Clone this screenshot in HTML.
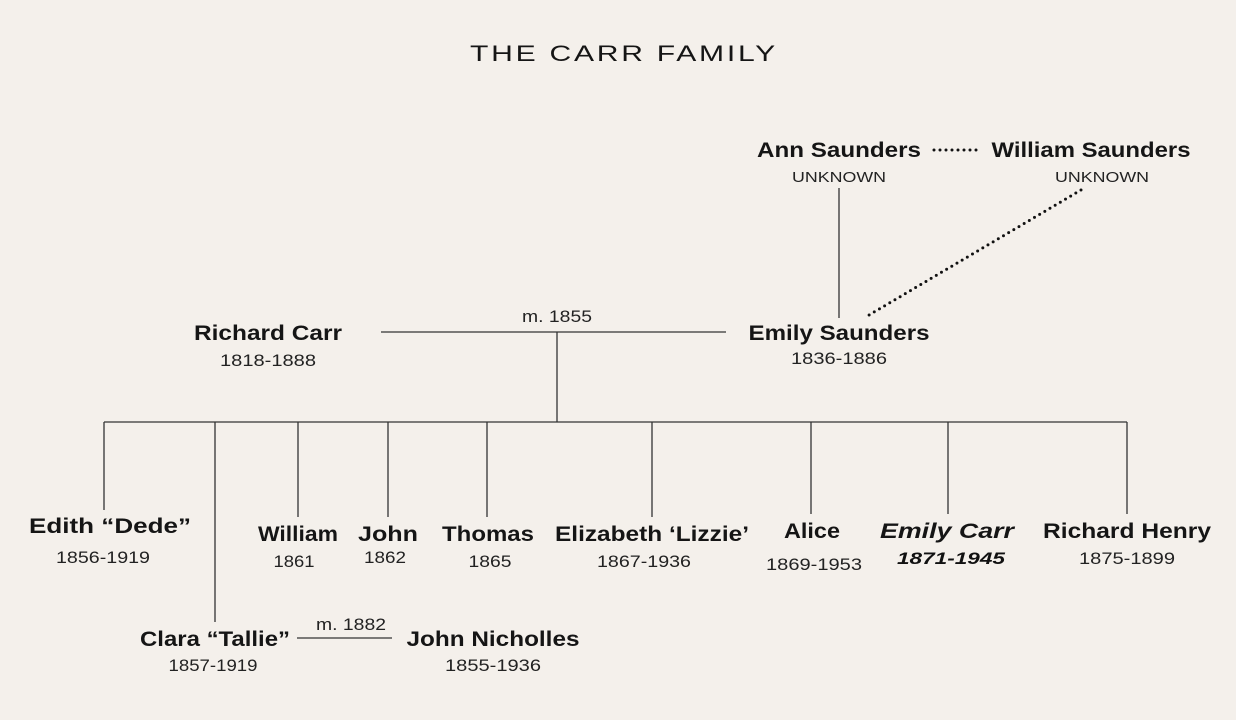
<!DOCTYPE html>
<html><head><meta charset="utf-8"><style>
html,body{margin:0;padding:0;background:#f4f0eb;}
svg{display:block;}
text{font-family:"Liberation Sans",sans-serif;fill:#151515;text-anchor:middle;}
.n{font-size:21px;font-weight:bold;}
.d{font-size:17px;fill:#222;}
.u{font-size:15px;fill:#222;}
</style></head><body>
<svg width="1236" height="720" viewBox="0 0 1236 720">
<rect width="1236" height="720" fill="#f4f0eb"/>
<text x="624" y="61" style="font-size:22px;letter-spacing:2px" textLength="308" lengthAdjust="spacingAndGlyphs">THE CARR FAMILY</text>
<g stroke="#333" stroke-width="1.3" fill="none">
<line x1="381" y1="332" x2="726" y2="332"/>
<line x1="557" y1="332" x2="557" y2="422"/>
<line x1="104" y1="422" x2="1127" y2="422"/>
<line x1="104" y1="422" x2="104" y2="510"/>
<line x1="215" y1="422" x2="215" y2="622"/>
<line x1="298" y1="422" x2="298" y2="517"/>
<line x1="388" y1="422" x2="388" y2="517"/>
<line x1="487" y1="422" x2="487" y2="517"/>
<line x1="652" y1="422" x2="652" y2="517"/>
<line x1="811" y1="422" x2="811" y2="514"/>
<line x1="948" y1="422" x2="948" y2="514"/>
<line x1="1127" y1="422" x2="1127" y2="514"/>
<line x1="839" y1="188" x2="839" y2="318"/>
<line x1="297" y1="638" x2="392" y2="638"/>
</g>
<g stroke="#111" stroke-width="3" stroke-linecap="round" stroke-dasharray="0 6" fill="none">
<line x1="934" y1="150" x2="978" y2="150"/>
<line x1="1081" y1="190" x2="864" y2="318"/>
</g>
<text class="n" x="839" y="157" textLength="164" lengthAdjust="spacingAndGlyphs">Ann Saunders</text>
<text class="u" x="839" y="182" textLength="94" lengthAdjust="spacingAndGlyphs">UNKNOWN</text>
<text class="n" x="1091" y="157" textLength="199" lengthAdjust="spacingAndGlyphs">William Saunders</text>
<text class="u" x="1102" y="182" textLength="94" lengthAdjust="spacingAndGlyphs">UNKNOWN</text>
<text class="n" x="268" y="340" textLength="148" lengthAdjust="spacingAndGlyphs">Richard Carr</text>
<text class="d" x="268" y="366" textLength="96" lengthAdjust="spacingAndGlyphs">1818-1888</text>
<text class="d" x="557" y="322" textLength="70" lengthAdjust="spacingAndGlyphs">m. 1855</text>
<text class="n" x="839" y="340" textLength="181" lengthAdjust="spacingAndGlyphs">Emily Saunders</text>
<text class="d" x="839" y="364" textLength="96" lengthAdjust="spacingAndGlyphs">1836-1886</text>
<text class="n" x="110" y="533" textLength="162" lengthAdjust="spacingAndGlyphs">Edith “Dede”</text>
<text class="d" x="103" y="563" textLength="94" lengthAdjust="spacingAndGlyphs">1856-1919</text>
<text class="n" x="298" y="541" textLength="80" lengthAdjust="spacingAndGlyphs">William</text>
<text class="d" x="294" y="567" textLength="41" lengthAdjust="spacingAndGlyphs">1861</text>
<text class="n" x="388" y="541" textLength="60" lengthAdjust="spacingAndGlyphs">John</text>
<text class="d" x="385" y="563" textLength="42" lengthAdjust="spacingAndGlyphs">1862</text>
<text class="n" x="488" y="541" textLength="92" lengthAdjust="spacingAndGlyphs">Thomas</text>
<text class="d" x="490" y="567" textLength="43" lengthAdjust="spacingAndGlyphs">1865</text>
<text class="n" x="652" y="541" textLength="194" lengthAdjust="spacingAndGlyphs">Elizabeth ‘Lizzie’</text>
<text class="d" x="644" y="567" textLength="94" lengthAdjust="spacingAndGlyphs">1867-1936</text>
<text class="n" x="812" y="538" textLength="56" lengthAdjust="spacingAndGlyphs">Alice</text>
<text class="d" x="814" y="570" textLength="96" lengthAdjust="spacingAndGlyphs">1869-1953</text>
<text class="n" x="947" y="538" style="font-style:italic;font-weight:900" textLength="134" lengthAdjust="spacingAndGlyphs">Emily Carr</text>
<text class="d" x="951" y="564" style="font-style:italic;font-weight:bold;fill:#111" textLength="108" lengthAdjust="spacingAndGlyphs">1871-1945</text>
<text class="n" x="1127" y="538" textLength="168" lengthAdjust="spacingAndGlyphs">Richard Henry</text>
<text class="d" x="1127" y="564" textLength="96" lengthAdjust="spacingAndGlyphs">1875-1899</text>
<text class="n" x="215" y="646" textLength="150" lengthAdjust="spacingAndGlyphs">Clara “Tallie”</text>
<text class="d" x="213" y="671" textLength="89" lengthAdjust="spacingAndGlyphs">1857-1919</text>
<text class="d" x="351" y="630" textLength="70" lengthAdjust="spacingAndGlyphs">m. 1882</text>
<text class="n" x="493" y="646" textLength="173" lengthAdjust="spacingAndGlyphs">John Nicholles</text>
<text class="d" x="493" y="671" textLength="96" lengthAdjust="spacingAndGlyphs">1855-1936</text>
</svg>
</body></html>
